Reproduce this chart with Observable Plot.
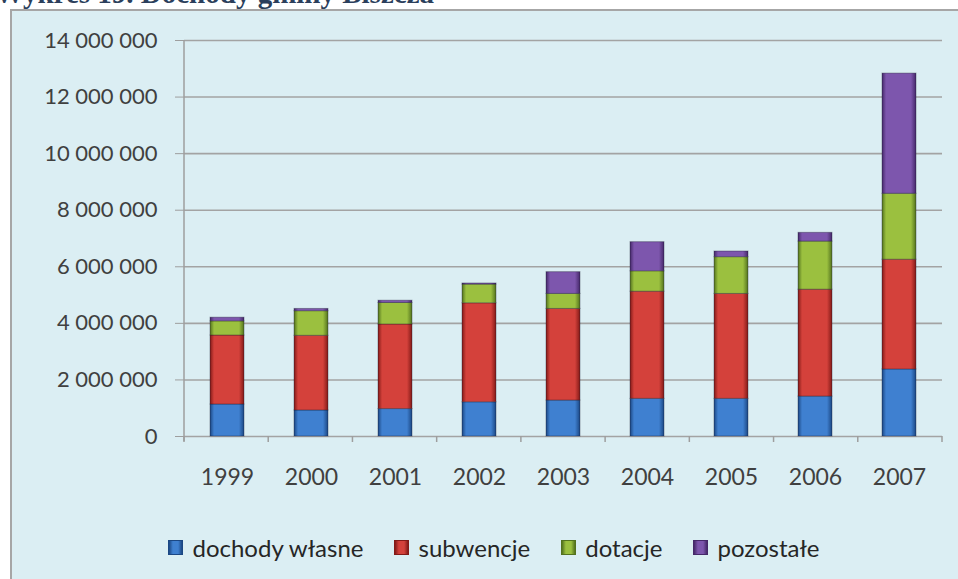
<!DOCTYPE html>
<html>
<head>
<meta charset="utf-8">
<script src="https://cdn.jsdelivr.net/npm/d3@7"></script>
<script src="https://cdn.jsdelivr.net/npm/@observablehq/plot@0.6"></script>
<style>
  html, body { margin: 0; padding: 0; }
  body { width: 958px; height: 579px; overflow: hidden; position: relative; background: #ffffff; }
  #title { position: absolute; left: -5px; top: -23px; line-height: 26px; font: bold 29px "Liberation Serif", "DejaVu Serif", serif; color: #2b3f5c; white-space: nowrap; }
  #panel { position: absolute; left: 10px; top: 9px; width: 980px; height: 620px; background: #dbeef3; border: 2px solid #a6a6a6; box-sizing: border-box; }
  #chart { position: absolute; left: 0; top: 0; }
  #legend { position: absolute; left: 10px; top: 533px; width: 968px; display: flex; justify-content: center; gap: 31px; font: 24px Lato, "Open Sans", sans-serif; color: #262626; }
  #legend .item { display: flex; align-items: center; }
  #legend .sw { width: 15px; height: 15px; margin-right: 9px; box-sizing: border-box; }
</style>
</head>
<body>
<div id="title">Wykres 19. Dochody gminy Biszcza</div>
<div id="panel"></div>
<div id="chart"></div>
<div id="legend"></div>
<script>
// ---- data ----
const years = ["1999", "2000", "2001", "2002", "2003", "2004", "2005", "2006", "2007"];
const series = ["dochody własne", "subwencje", "dotacje", "pozostałe"];
const dochodyWlasne = [1130000, 920000, 970000, 1210000, 1270000, 1330000, 1330000, 1410000, 2370000];
const subwencje     = [2440000, 2640000, 2990000, 3500000, 3240000, 3790000, 3710000, 3780000, 3880000];
const dotacje       = [500000, 870000, 760000, 660000, 530000, 720000, 1300000, 1700000, 2330000];
const pozostale     = [130000, 80000, 80000, 40000, 770000, 1030000, 200000, 310000, 4250000];
const yTicks = [0, 2000000, 4000000, 6000000, 8000000, 10000000, 12000000, 14000000];

// colors: [edge, center]
const palette = [
  ["#1b4783", "#3f80d0"],
  ["#821a17", "#d4413b"],
  ["#53721e", "#9bc03f"],
  ["#452869", "#7d56ad"]
];
const gradIds = ["g-blue", "g-red", "g-green", "g-purple"];

const valuesBySeries = [dochodyWlasne, subwencje, dotacje, pozostale];
const data = [];
series.forEach((s, si) => {
  years.forEach((yr, i) => data.push({ year: yr, series: s, value: valuesBySeries[si][i] }));
});

const fmt = d3.formatLocale({ decimal: ",", thousands: " ", grouping: [3], currency: ["", ""] }).format(",d");

const W = 958, H = 500;
const mL = 184, mR = 16, mT = 40, mB = 64;

// custom mark: y axis line + category boundary ticks
function axisLines(index, scales, values, dims) {
  const g = document.createElementNS("http://www.w3.org/2000/svg", "g");
  const y0 = scales.y(0), yTop = scales.y(yTicks[yTicks.length - 1]);
  const x0 = dims.marginLeft, x1 = dims.width - dims.marginRight;
  const step = (x1 - x0) / years.length;
  const mk = (xa, ya, xb, yb) => {
    const l = document.createElementNS("http://www.w3.org/2000/svg", "line");
    l.setAttribute("x1", xa); l.setAttribute("y1", ya);
    l.setAttribute("x2", xb); l.setAttribute("y2", yb);
    l.setAttribute("stroke", "#9e9e9e"); l.setAttribute("stroke-width", "1.5");
    g.appendChild(l);
  };
  mk(x0, yTop, x0, y0 + 5);
  for (let k = 0; k <= years.length; k++) mk(x0 + k * step, y0, x0 + k * step, y0 + 6);
  return g;
}

const chart = Plot.plot({
  width: W, height: H,
  marginLeft: mL, marginRight: mR, marginTop: mT, marginBottom: mB,
  style: { background: "transparent", color: "#404040", fontFamily: "Lato, 'Open Sans', sans-serif", overflow: "visible" },
  x: { domain: years, paddingInner: 0.6, paddingOuter: 0.3, label: null },
  y: { domain: [0, 14000000], label: null },
  color: { domain: series, range: gradIds.map(id => `url(#${id})`) },
  marks: [
    Plot.gridY(yTicks, { stroke: "#a3a3a3", strokeOpacity: 1, strokeWidth: 1.6 }),
    Plot.axisY(yTicks, { tickFormat: fmt, tickSize: 9, tickPadding: 18, stroke: "#9e9e9e", fontSize: 22, label: null }),
    Plot.axisX({ tickSize: 0, tickPadding: 32, fontSize: 23, label: null }),
    axisLines,
    Plot.barY(data, { x: "year", y: "value", fill: "series", stroke: "rgba(20,20,40,0.35)", strokeWidth: 1 })
  ]
});

// gradient defs
const defs = document.createElementNS("http://www.w3.org/2000/svg", "defs");
defs.innerHTML = palette.map(([edge, mid], i) => `
  <linearGradient id="${gradIds[i]}" x1="0" x2="1" y1="0" y2="0">
    <stop offset="0" stop-color="${edge}"/>
    <stop offset="0.12" stop-color="${mid}"/>
    <stop offset="0.5" stop-color="${mid}"/>
    <stop offset="0.85" stop-color="${mid}"/>
    <stop offset="1" stop-color="${edge}"/>
  </linearGradient>`).join("");
chart.insertBefore(defs, chart.firstChild);
document.getElementById("chart").appendChild(chart);

// legend
const legend = document.getElementById("legend");
series.forEach((s, i) => {
  const item = document.createElement("div");
  item.className = "item";
  const sw = document.createElement("span");
  sw.className = "sw";
  sw.style.background = `linear-gradient(to right, ${palette[i][0]}, ${palette[i][1]} 30%, ${palette[i][1]} 70%, ${palette[i][0]})`;
  sw.style.border = `1px solid ${palette[i][0]}`;
  const t = document.createElement("span");
  t.textContent = s;
  item.appendChild(sw); item.appendChild(t);
  legend.appendChild(item);
});
</script>
</body>
</html>
